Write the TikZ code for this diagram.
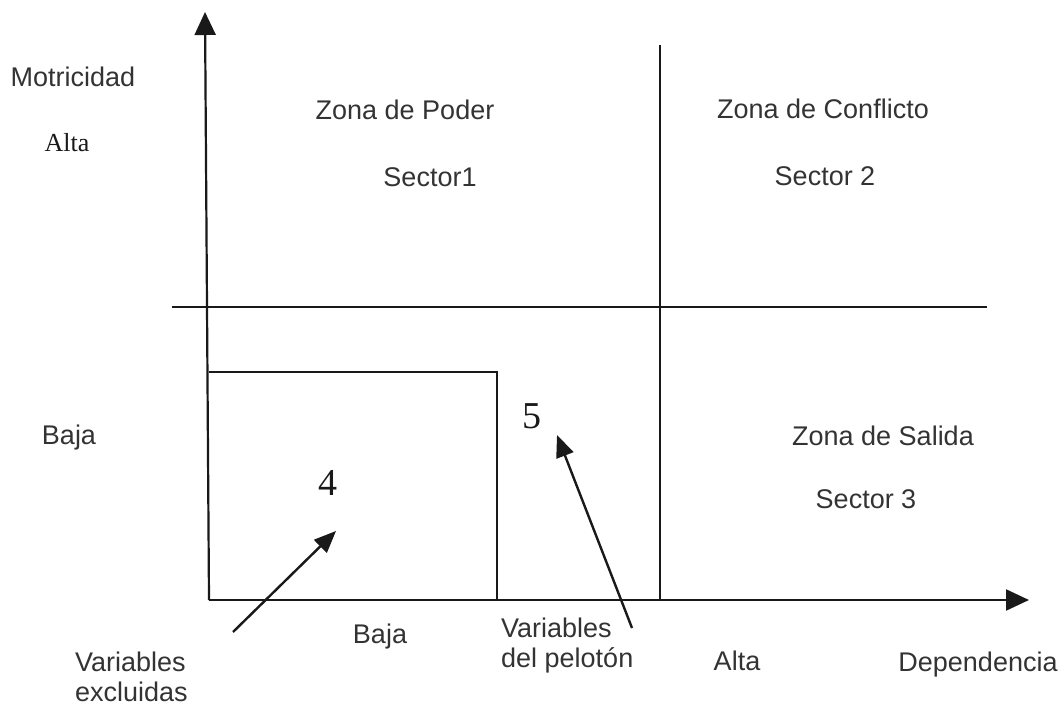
\documentclass[tikz,border=0pt]{standalone}
\usepackage{fontspec}
\setmainfont{Liberation Sans}
\newfontfamily\serifface{Liberation Serif}
\usetikzlibrary{arrows.meta}
\definecolor{ink}{rgb}{0.1,0.1,0.1}
\definecolor{txt}{rgb}{0.2,0.2,0.2}
\begin{document}
\begin{tikzpicture}[x=1pt,y=-1pt,
  ln/.style={draw=ink,line width=2.2pt},
  axis/.style={ln,-{Triangle[length=23pt,width=21pt]}},
  pointer/.style={ln,line width=2.4pt,-{Triangle[length=22pt,width=18pt]}},
  lbl/.style={inner sep=0pt,anchor=base,text=txt,font=\fontsize{27}{30}\selectfont},
  lbl2/.style={inner sep=0pt,anchor=base west,align=left,text=txt,font=\fontsize{27}{30}\selectfont},
  serif/.style={inner sep=0pt,anchor=base,text=ink,font=\serifface\fontsize{26}{30}\selectfont},
  digit/.style={inner sep=0pt,anchor=base,text=ink,font=\serifface\fontsize{38}{42}\selectfont}]
\useasboundingbox (0,0) rectangle (1062,708);
% axes
\coordinate (o) at (209,600);
\coordinate (ytop) at (205,12);
\coordinate (xend) at (1029,600);
\draw[axis] (o) -- (ytop);
\draw[axis] (o) -- (xend);
% quadrant lines
\coordinate (hl) at (172,307);
\coordinate (hr) at (987,307);
\coordinate (vt) at (660,45);
\coordinate (vb) at (660,600);
\draw[ln] (hl) -- (hr);
\draw[ln] (vt) -- (vb);
% inner box
\coordinate (bl) at (209,372);
\coordinate (br) at (497,372);
\coordinate (bb) at (497,600);
\draw[ln] (bl) -- (br) -- (bb);
% labels
\node[lbl] (mot) at (73,87) {Motricidad};
\node[serif] (alta1) at (67,152) {Alta};
\node[lbl] (baja1) at (69,444) {Baja};
\node[lbl] (zp) at (405,120) {Zona de Poder};
\node[lbl] (s1) at (430,187) {Sector1};
\node[lbl] (zc) at (823,119) {Zona de Conflicto};
\node[lbl] (s2) at (825,186) {Sector 2};
\node[lbl] (zs) at (883,445) {Zona de Salida};
\node[lbl] (s3) at (866,508) {Sector 3};
\node[digit] (n4) at (328,495) {4};
\node[digit] (n5) at (532,428) {5};
\node[lbl] (baja2) at (380,643) {Baja};
\node[lbl2] (vp) at (501,667) {Variables\\del pelotón};
\node[lbl] (alta2) at (737,670) {Alta};
\node[lbl] (dep) at (978,671) {Dependencia};
\node[lbl2] (ve) at (75,701) {Variables\\excluidas};
% pointers
\coordinate (p1s) at (233,632);
\coordinate (p1e) at (336,531);
\coordinate (p2s) at (632,628);
\coordinate (p2e) at (557,435);
\draw[pointer] (p1s) -- (p1e);
\draw[pointer] (p2s) -- (p2e);
\end{tikzpicture}
\end{document}
